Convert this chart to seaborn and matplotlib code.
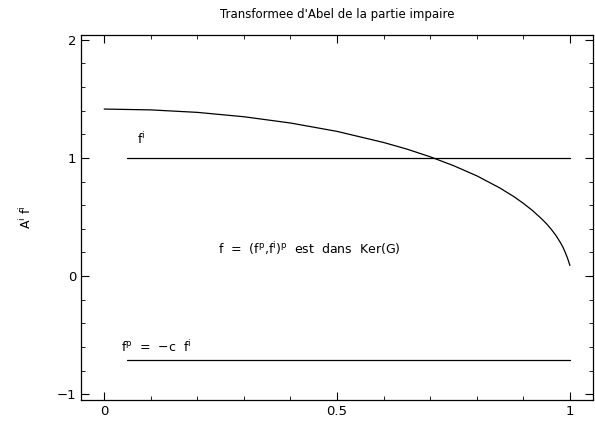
import numpy as np
import pandas as pd
import matplotlib.pyplot as plt
import seaborn as sns
from matplotlib.ticker import MultipleLocator

sns.set_theme(style="ticks")
plt.rcParams['font.family'] = ['DejaVu Sans']
plt.rcParams['text.color'] = 'black'
plt.rcParams['axes.labelcolor'] = 'black'

# Curve
curve_x = [0.0, 0.1, 0.2, 0.3, 0.4, 0.5, 0.6, 0.65, 0.7, 0.75, 0.8, 0.85, 0.88, 0.9, 0.92, 0.94,
           0.95, 0.96, 0.97, 0.98, 0.985, 0.99, 0.995, 1.0]
curve_y = [1.414, 1.407, 1.386, 1.349, 1.296, 1.225, 1.131, 1.075, 1.01, 0.935, 0.849, 0.745,
           0.672, 0.616, 0.554, 0.482, 0.442, 0.396, 0.344, 0.281, 0.245, 0.2, 0.15, 0.09]

# Horizontal lines
fi_x = [0.05, 1.0]
fi_y = [1.0, 1.0]
fp_x = [0.05, 1.0]
fp_y = [-0.71, -0.71]

fig = plt.figure(figsize=(5.95, 4.23), dpi=100)
ax = fig.add_axes([0.136, 0.054, 0.861, 0.863])

df = pd.DataFrame({'x': curve_x, 'y': curve_y})
sns.lineplot(data=df, x='x', y='y', ax=ax, color='black', linewidth=0.9)
sns.lineplot(x=fi_x, y=fi_y, ax=ax, color='black', linewidth=0.9)
sns.lineplot(x=fp_x, y=fp_y, ax=ax, color='black', linewidth=0.9)

ax.set_xlim(-0.05, 1.05)
ax.set_ylim(-1.05, 2.04)
ax.xaxis.set_minor_locator(MultipleLocator(0.1))
ax.yaxis.set_minor_locator(MultipleLocator(0.2))
ax.set_xticks([0, 0.5, 1])
ax.set_xticklabels(['0', '0.5', '1'])
ax.set_yticks([-1, 0, 1, 2])
ax.set_yticklabels(['\u22121', '0', '1', '2'])
ax.tick_params(which='both', direction='in', top=True, right=True, colors='black', labelsize=9.5)
ax.tick_params(which='major', length=6, width=0.8)
ax.tick_params(which='minor', length=3, width=0.6)
for s in ax.spines.values():
    s.set_linewidth(0.9)
    s.set_color('black')

ax.set_xlabel('')
ax.set_ylabel(r'A$^{\mathrm{i}}$ f$^{\mathrm{i}}$', fontsize=9, labelpad=16)
ax.set_title("Transformee d'Abel de la partie impaire", fontsize=8.5, pad=12, color='black')

ax.text(0.07, 1.12, r'f$^{\mathrm{i}}$', fontsize=9)
ax.text(0.035, -0.64, r'f$^{\mathrm{p}}$  =  $-$c  f$^{\mathrm{i}}$', fontsize=9)
ax.text(0.245, 0.19, r'f  =  (f$^{\mathrm{p}}$,f$^{\mathrm{i}}$)$^{\mathrm{p}}$  est  dans  Ker(G)', fontsize=9)

plt.savefig('out.png', dpi=100)
